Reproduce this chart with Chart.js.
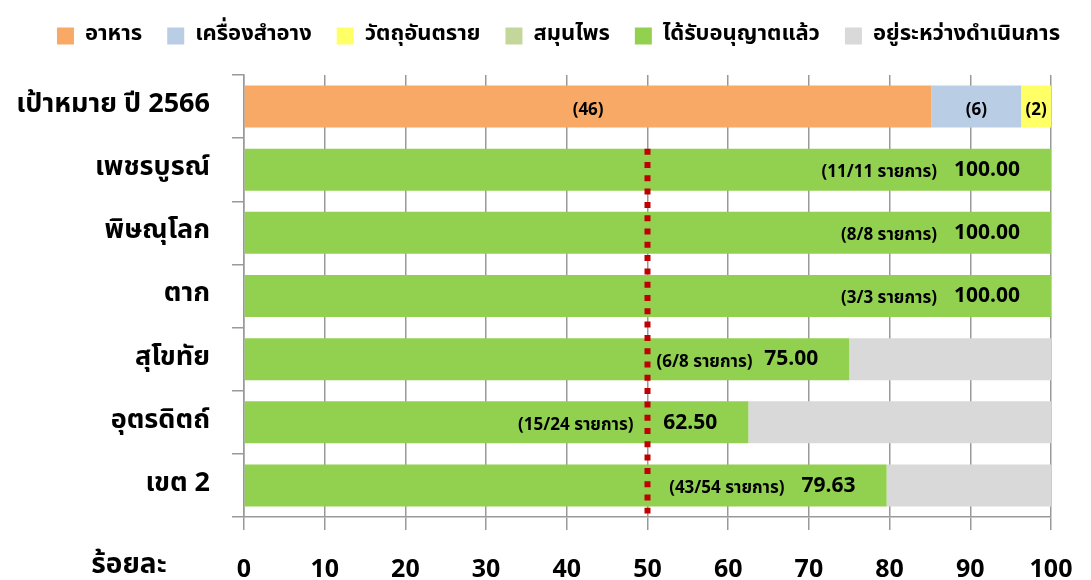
<!DOCTYPE html>
<html>
<head>
<meta charset="utf-8">
<script src="https://cdn.jsdelivr.net/npm/chart.js@4"></script>
<style>
  html, body { margin: 0; padding: 0; background: #fff; }
  #wrap { width: 1091px; height: 580px; }
</style>
</head>
<body>
<div id="wrap"><canvas id="chart"></canvas></div>
<script>
// ข้อมูลจากภาพ
const categories = ['เป้าหมาย ปี 2566', 'เพชรบูรณ์', 'พิษณุโลก', 'ตาก', 'สุโขทัย', 'อุตรดิตถ์', 'เขต 2'];
const seriesNames = ['อาหาร', 'เครื่องสำอาง', 'วัตถุอันตราย', 'สมุนไพร', 'ได้รับอนุญาตแล้ว', 'อยู่ระหว่างดำเนินการ'];

// แถวเป้าหมาย (ร้อยละของ 54 รายการ) และจำนวนรายการ
const foodPct = [85.19, null, null, null, null, null, null];
const cosmeticPct = [11.11, null, null, null, null, null, null];
const hazardPct = [3.70, null, null, null, null, null, null];
const herbPct = [0, null, null, null, null, null, null];
const targetCounts = [46, 6, 2, 0];

// แถวจังหวัด
const approvedPct = [null, 100, 100, 100, 75, 62.5, 79.63];
const pendingPct = [null, 0, 0, 0, 25, 37.5, 20.37];
const approvedCount = [null, 11, 8, 3, 6, 15, 43];
const totalCount = [null, 11, 8, 3, 8, 24, 54];

const xTicks = [0, 10, 20, 30, 40, 50, 60, 70, 80, 90, 100];
const targetLine = 50;

const FONT = 'Tahoma, "Noto Sans Thai", "Noto Sans", "DejaVu Sans", sans-serif';
const colors = ['#F8A965', '#B9CDE5', '#FFFF66', '#C4D79B', '#92D050', '#D9D9D9'];

// เว้นที่ว่างใต้ legend และเลื่อน legend ไปทางขวาเล็กน้อย
const legendMargin = {
    id: 'legendMargin',
    beforeInit(chart) {
        const origFit = chart.legend.fit;
        chart.legend.fit = function () {
            origFit.bind(chart.legend)();
            this.height += 18;
        };
    },
    afterLayout(chart) {
        chart.legend.left += 13;
        chart.legend.right += 13;
    }
};

const extras = {
    id: 'extras',
    afterDatasetsDraw(chart) {
        const ctx = chart.ctx;
        const xs = chart.scales.x;
        const lx = xs.getPixelForValue(targetLine);

        // ป้ายจำนวนในแถวเป้าหมาย
        ctx.save();
        ctx.fillStyle = '#000';
        ctx.textAlign = 'center';
        ctx.textBaseline = 'middle';
        ctx.font = 'bold 17px ' + FONT;
        [0, 1, 2].forEach(di => {
            const bar = chart.getDatasetMeta(di).data[0];
            if (!bar || !targetCounts[di]) return;
            ctx.fillText('(' + targetCounts[di] + ')', (bar.x + bar.base) / 2, bar.y + 5);
        });

        // ป้ายร้อยละและจำนวนรายการ (หลบเส้น 50%)
        const meta = chart.getDatasetMeta(4);
        ctx.textAlign = 'left';
        meta.data.forEach((bar, i) => {
            if (approvedPct[i] == null) return;
            ctx.font = 'bold 21px ' + FONT;
            const v = approvedPct[i].toFixed(2);
            const vw = ctx.measureText(v).width;
            const vx = bar.x - 31 - vw;
            ctx.fillText(v, vx, bar.y + 2);

            ctx.font = 'bold 17px ' + FONT;
            const txt = '(' + approvedCount[i] + '/' + totalCount[i] + ' รายการ)';
            const tw = ctx.measureText(txt).width;
            let tx = vx - 17 - tw;
            if (tx < lx + 8 && tx + tw > lx - 8) {
                tx = (tx + tw - lx > lx - tx) ? lx + 9 : lx - 14 - tw;
            }
            ctx.fillText(txt, tx, bar.y + 4);
        });

        // เส้นเป้าหมาย 50%
        const first = meta.data[1];
        const last = meta.data[meta.data.length - 1];
        ctx.beginPath();
        ctx.strokeStyle = '#C00000';
        ctx.lineWidth = 6;
        ctx.setLineDash([6, 7.3]);
        ctx.moveTo(lx, first.y - first.height / 2);
        ctx.lineTo(lx, last.y + last.height / 2 + 7);
        ctx.stroke();

        // คำว่า ร้อยละ
        ctx.setLineDash([]);
        ctx.font = 'bold 28px ' + FONT;
        ctx.textAlign = 'center';
        ctx.fillText('ร้อยละ', 129, 567);
        ctx.restore();
    }
};

const datasets = [foodPct, cosmeticPct, hazardPct, herbPct, approvedPct, pendingPct].map((d, i) => ({
    label: seriesNames[i],
    data: d,
    backgroundColor: colors[i],
    borderWidth: 0,
    barPercentage: 0.665,
    categoryPercentage: 1
}));

new Chart(document.getElementById('chart'), {
    type: 'bar',
    data: { labels: categories, datasets: datasets },
    options: {
        indexAxis: 'y',
        responsive: true,
        maintainAspectRatio: false,
        animation: false,
        layout: { padding: 0 },
        scales: {
            x: {
                stacked: true,
                min: 0,
                max: 100,
                afterBuildTicks: s => { s.ticks = xTicks.map(v => ({ value: v })); },
                afterFit: s => {
                    s.height = 63;
                    s.paddingLeft = 0;
                    s.paddingRight = 40;
                },
                grid: { color: '#999', lineWidth: 1.5, tickLength: 13 },
                border: { color: '#999', width: 1.5 },
                ticks: { color: '#000', padding: 27, font: { family: FONT, size: 25, weight: 'bold' } }
            },
            y: {
                stacked: true,
                afterFit: s => { s.width = 244; },
                grid: { drawOnChartArea: false, color: '#999', lineWidth: 1.5, tickLength: 12 },
                border: { color: '#999', width: 1.5 },
                ticks: { color: '#000', padding: 22, font: { family: FONT, size: 27, weight: 'bold' } }
            }
        },
        plugins: {
            legend: {
                position: 'top',
                labels: {
                    boxWidth: 17,
                    boxHeight: 17,
                    padding: 25,
                    color: '#000',
                    font: { family: FONT, size: 22, weight: 'bold' }
                }
            },
            tooltip: { enabled: false }
        }
    },
    plugins: [legendMargin, extras]
});
</script>
</body>
</html>
